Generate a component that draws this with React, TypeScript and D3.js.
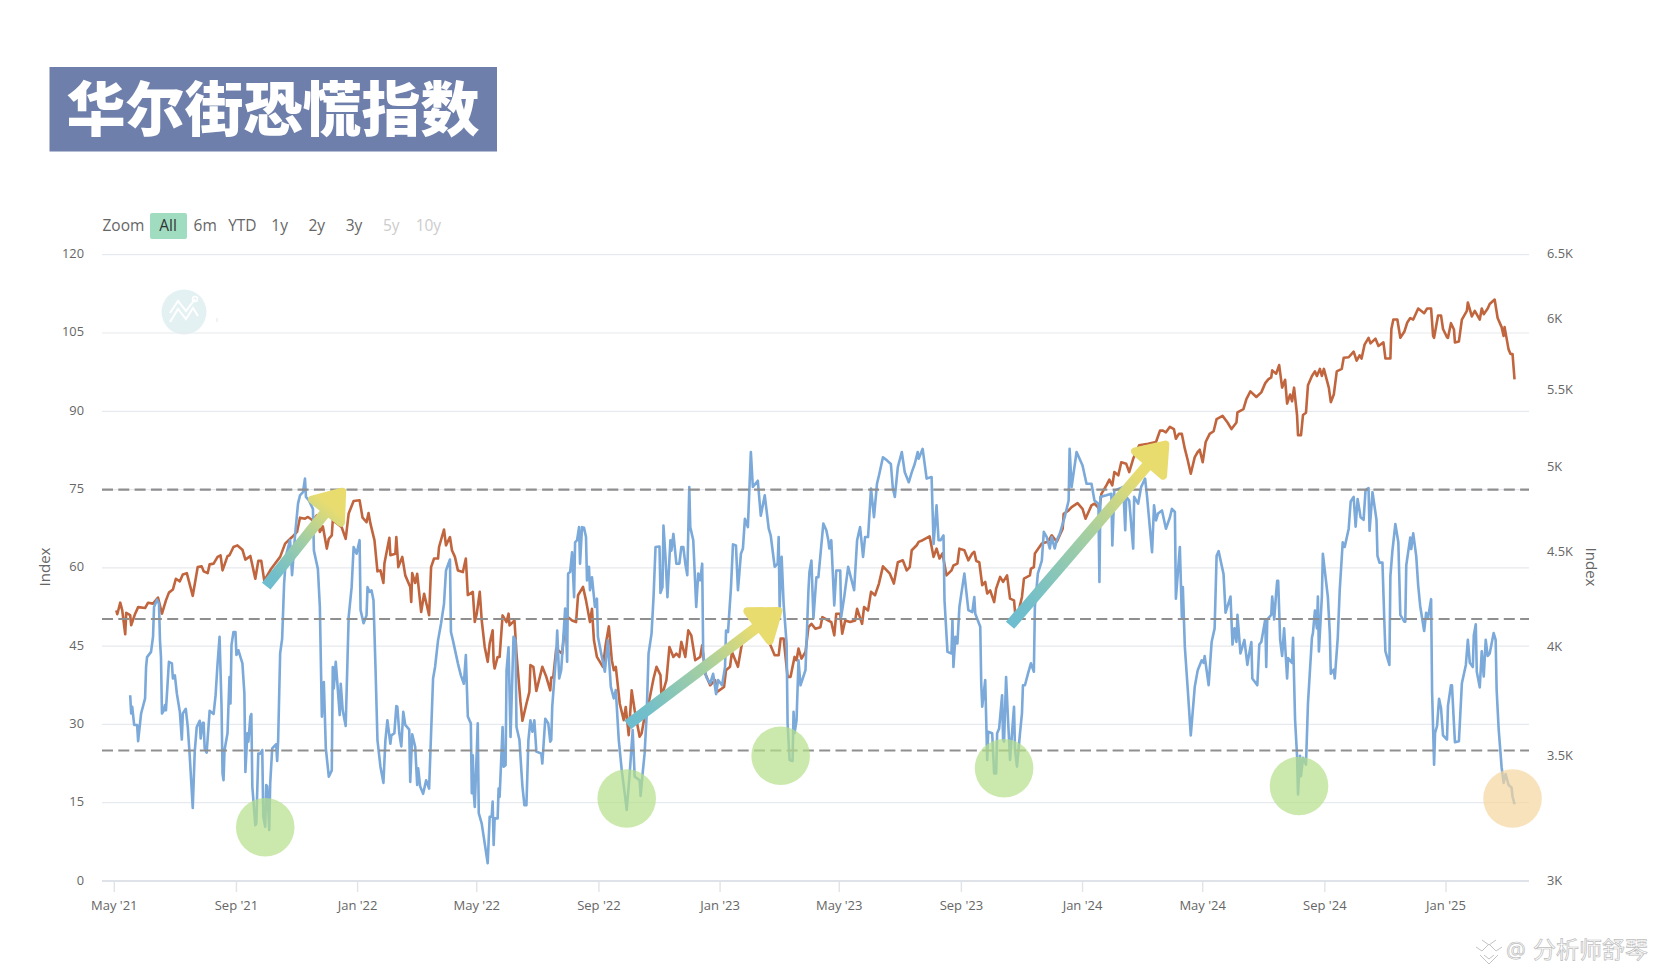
import React from 'react';
import * as d3 from 'd3';

// every point is [days since 1 May 2021, value]
const fear2021: [number, number][] = [
  [16,35.6],[17,32.1],[18,33.4],[20,29.9],[23,29.9],[24,26.8],[27,32.1],[31,35.0],[32,41.0],[33,42.9],[37,43.9],[39,46.8],[40,52.5],[43,53.9],[45,53.1],[46,46.1],[47,42.9],[48,32.1],[50,32.7],[51,33.7],[52,32.7],[55,42.0],[58,41.7],[59,38.8],[61,39.4],[63,35.9],[66,32.4],[68,27.1],[69,32.1],[72,33.0],[74,29.5],[76,23.8],[79,14.0],[81,24.8],[83,29.5],[86,30.7],[87,27.3],[89,30.3],[90,30.3],[91,25.4],[93,24.6],[96,32.6],[100,32.0],[102,35.6],[104,41.7],[106,46.8],[108,33.4],[109,20.6],[110,19.3],[111,25.1],[114,28.3],[116,39.1],[117,34.0],[118,45.2],[120,47.7],[122,47.7],[123,43.3],[125,44.2],[129,41.7],[131,35.9],[132,20.9],[134,28.3],[135,26.7],[137,31.5],[138,32.0],[139,18.1],[142,10.7],[143,11.0],[145,24.4],[147,24.4],[149,25.1],[150,12.3],[152,10.4],[153,18.4],[154,18.1],[156,9.8],[157,18.7],[159,25.4],[163,26.2],[164,23.0],[165,27.0],[167,43.6],[169,46.4],[171,57.0],[173,62.4],[177,65.3],[179,58.6],[182,66.2],[185,72.3],[187,73.9],[190,74.5],[192,77.1],[193,73.6],[196,72.9],[200,71.3],[201,63.3],[205,59.8],[207,52.5],[209,31.5],[211,38.1],[213,25.4],[216,20.0],[219,21.2],[220,41.0],[221,36.9],[223,42.0],[227,31.8],[228,37.8],[230,32.7],[233,29.7],[236,50.6],[239,56.3],[241,64.0],[244,62.7],
];
const fear2022: [number, number][] = [
  [247,65.3],[248,51.9],[251,49.4],[254,50.9],[255,56.3],[257,55.4],[259,55.7],[261,53.8],[263,41.0],[265,27.0],[268,21.9],[271,18.8],[273,27.0],[275,30.8],[278,26.3],[279,27.9],[282,28.3],[284,33.5],[285,33.4],[287,28.3],[289,25.8],[291,32.4],[293,29.9],[297,29.0],[298,19.0],[300,28.1],[303,25.7],[305,18.4],[306,21.6],[308,18.1],[311,16.7],[314,19.3],[317,17.7],[319,28.3],[321,38.8],[323,41.0],[326,46.1],[329,49.3],[332,53.1],[334,59.5],[338,61.6],[339,47.7],[341,46.1],[346,41.7],[349,39.4],[352,37.8],[354,43.3],[356,31.5],[359,30.2],[360,16.8],[361,24.1],[362,16.8],[363,14.2],[366,30.2],[367,13.0],[370,11.0],[373,7.2],[376,3.4],[378,12.3],[380,12.3],[381,15.2],[382,6.9],[383,12.0],[386,12.0],[387,17.7],[388,16.1],[391,29.5],[392,21.9],[394,22.2],[395,40.4],[397,44.8],[399,27.6],[402,46.8],[404,46.1],[405,29.5],[408,27.0],[410,20.9],[411,18.1],[413,14.5],[415,14.5],[417,27.0],[419,30.8],[421,28.6],[423,30.8],[425,24.8],[430,24.4],[431,22.5],[434,31.1],[437,30.2],[439,26.7],[440,27.0],[441,33.4],[443,38.5],[445,43.6],[446,48.0],[448,38.8],[450,40.4],[452,46.1],[454,52.2],[456,42.0],[457,58.9],[459,59.2],[461,63.0],[463,54.4],[464,64.9],[466,65.3],[468,67.8],[469,60.8],[471,67.8],[473,67.7],[475,65.9],[476,57.6],[478,60.2],[479,55.7],[481,58.2],[484,52.5],[486,54.1],[487,46.8],[491,42.9],[494,40.1],[497,46.1],[500,37.2],[503,35.0],[505,36.6],[508,27.0],[511,21.2],[514,16.8],[516,13.6],[519,20.6],[522,28.9],[524,20.0],[529,19.3],[530,16.3],[532,20.6],[534,24.4],[536,31.5],[538,43.6],[541,47.4],[543,54.4],[545,64.0],[549,64.1],[550,55.2],[552,56.3],[553,68.1],[555,62.1],[557,54.4],[560,65.3],[561,63.3],[563,66.5],[566,60.8],[569,60.8],[571,64.0],[573,64.0],[575,60.8],[577,58.6],[579,75.5],[580,67.8],[583,65.3],[586,52.5],[588,58.9],[590,57.6],[592,60.8],[593,43.6],[596,39.1],[600,37.8],[603,39.7],[606,35.8],[608,38.5],
];
const fear2023: [number, number][] = [
  [612,37.5],[615,41.0],[616,48.0],[618,47.7],[621,56.3],[623,64.5],[626,64.3],[628,55.7],[631,62.7],[633,63.7],[635,69.4],[638,67.8],[641,82.2],[643,75.5],[648,76.7],[651,70.0],[655,73.9],[659,67.5],[661,66.2],[665,60.2],[668,60.8],[669,65.9],[670,52.5],[672,62.1],[674,53.1],[677,45.5],[678,30.2],[680,23.2],[683,23.0],[684,32.4],[685,28.3],[687,30.8],[689,42.3],[691,37.5],[696,40.4],[699,55.7],[700,59.2],[702,61.4],[704,50.3],[707,58.2],[709,58.2],[714,68.5],[717,67.2],[719,65.3],[720,63.7],[722,65.3],[725,52.8],[727,59.5],[731,59.5],[732,50.6],[735,54.4],[739,60.2],[745,55.7],[748,65.3],[751,67.8],[754,62.1],[756,65.9],[759,65.9],[762,75.2],[765,69.7],[768,76.1],[770,77.7],[774,81.2],[778,80.6],[782,79.9],[784,75.2],[786,73.6],[789,79.3],[793,82.2],[796,78.3],[800,76.4],[803,78.3],[806,79.9],[809,82.2],[810,80.9],[814,82.8],[818,77.1],[823,77.4],[825,64.6],[828,72.0],[830,65.3],[832,65.3],[835,66.2],[836,53.8],[839,43.9],[843,43.6],[844,50.0],[845,41.0],[847,46.8],[849,45.5],[851,52.5],[853,55.1],[856,58.9],[860,51.9],[864,51.5],[866,54.4],[867,51.2],[872,48.7],[873,37.8],[874,33.4],[877,38.5],[879,23.2],[880,28.6],[884,28.3],[886,20.6],[888,20.6],[889,28.3],[891,29.2],[894,35.6],[895,27.0],[896,26.7],[898,39.1],[900,30.8],[902,23.2],[906,33.4],[907,25.1],[909,21.9],[912,28.3],[914,32.1],[915,37.5],[917,37.5],[920,39.7],[923,41.7],[926,40.1],[927,52.5],[930,58.9],[934,61.4],[936,66.9],[939,65.9],[942,63.7],[944,65.9],[947,63.7],[949,65.3],[952,66.5],[957,69.7],[961,72.9],[962,82.8],[964,75.5],[969,82.2],
];
const fear2024: [number, number][] = [
  [975,79.6],[979,76.1],[984,76.1],[987,72.9],[991,72.3],[992,57.3],[993,73.6],[999,73.9],[1004,74.2],[1005,64.3],[1007,74.8],[1016,75.5],[1018,67.2],[1019,73.6],[1022,72.9],[1026,63.7],[1027,73.6],[1031,72.3],[1034,75.5],[1038,77.1],[1040,73.6],[1045,63.0],[1047,72.0],[1049,69.1],[1051,70.4],[1055,71.0],[1059,67.5],[1063,69.7],[1065,71.3],[1068,70.7],[1069,54.1],[1073,64.0],[1075,50.6],[1076,56.3],[1078,44.9],[1081,36.6],[1084,27.9],[1088,37.2],[1091,40.4],[1095,42.3],[1097,41.8],[1098,43.1],[1102,37.5],[1105,45.8],[1108,48.4],[1110,62.3],[1112,63.2],[1117,58.8],[1119,51.4],[1124,54.5],[1126,45.3],[1128,48.4],[1130,45.8],[1131,51.0],[1134,43.6],[1138,46.2],[1141,41.4],[1142,42.7],[1145,45.8],[1146,38.8],[1151,37.5],[1153,45.3],[1155,45.8],[1159,50.1],[1160,41.0],[1161,50.1],[1165,51.0],[1166,54.5],[1168,50.1],[1170,55.3],[1171,57.5],[1172,57.5],[1174,46.2],[1176,43.1],[1178,48.4],[1181,38.8],[1182,42.7],[1186,41.8],[1187,46.6],[1189,31.0],[1191,24.0],[1192,16.6],[1194,24.0],[1195,20.1],[1197,23.6],[1200,22.3],[1202,34.0],[1206,46.6],[1207,47.5],[1209,51.8],[1211,48.4],[1212,54.5],[1213,44.0],[1216,54.5],[1217,62.7],[1222,54.5],[1224,47.5],[1225,39.7],[1228,40.5],[1229,38.8],[1232,46.6],[1234,55.8],[1237,64.9],[1239,64.0],[1243,67.5],[1245,72.7],[1248,73.6],[1250,67.9],[1252,73.2],[1255,69.7],[1258,69.2],[1260,74.9],[1263,75.3],[1264,67.1],[1267,74.5],[1271,69.2],[1272,62.3],[1274,61.0],[1277,61.0],[1279,49.2],[1280,44.0],[1284,41.4],[1285,58.4],[1287,63.2],[1290,68.4],[1293,64.9],[1295,51.0],[1299,49.7],[1300,49.7],[1301,60.5],[1305,65.8],[1306,63.6],[1308,66.6],[1311,62.3],[1313,56.6],[1315,52.7],[1319,47.9],[1321,51.4],[1323,50.5],[1326,54.0],[1327,36.2],[1329,22.3],[1330,28.4],[1332,29.7],[1334,34.9],[1336,33.1],[1338,27.9],
];
const fear2025: [number, number][] = [
  [1342,27.1],[1343,33.6],[1346,37.5],[1347,37.5],[1349,30.1],[1350,26.6],[1354,26.8],[1357,37.9],[1361,41.4],[1363,46.2],[1365,41.8],[1368,41.0],[1369,47.1],[1371,49.2],[1372,40.1],[1375,37.1],[1377,44.0],[1379,39.2],[1381,46.2],[1383,43.1],[1385,43.6],[1389,47.5],[1391,46.2],[1392,36.6],[1394,29.2],[1397,21.8],[1399,18.8],[1401,20.5],[1404,18.4],[1407,17.9],[1408,16.2],[1410,14.7],
];

const spx2021: [number, number][] = [
  [2,4190],[3,4170],[6,4230],[8,4190],[11,4068],[12,4177],[16,4165],[17,4114],[21,4173],[24,4207],[31,4202],[34,4230],[39,4225],[44,4257],[48,4173],[52,4242],[55,4283],[59,4299],[62,4357],[66,4343],[69,4380],[73,4387],[79,4266],[84,4420],[88,4424],[90,4397],[94,4387],[96,4435],[100,4439],[104,4476],[107,4485],[109,4402],[114,4480],[116,4485],[120,4531],[124,4540],[129,4516],[132,4461],[137,4481],[142,4357],[145,4454],[148,4454],[151,4347],[158,4411],[167,4476],[172,4550],[179,4587],[184,4616],[187,4698],[192,4692],[195,4702],[200,4682],[204,4712],[207,4616],[210,4648],[214,4522],[216,4577],[219,4596],[220,4682],[225,4662],[229,4643],[233,4577],[236,4722],[241,4796],
];
const spx2022: [number, number][] = [
  [247,4800],[250,4698],[254,4672],[256,4725],[258,4662],[262,4568],[265,4397],[268,4402],[271,4334],[272,4439],[277,4583],[278,4485],[283,4494],[284,4587],[286,4420],[290,4476],[293,4375],[298,4313],[299,4234],[300,4387],[303,4334],[305,4384],[309,4182],[312,4277],[317,4165],[319,4420],[322,4467],[326,4467],[327,4531],[332,4630],[334,4540],[338,4587],[340,4513],[343,4476],[346,4402],[351,4393],[354,4467],[356,4270],[361,4287],[363,4131],[365,4173],[368,4287],[370,4138],[373,4005],[376,3932],[378,4022],[381,4088],[382,3932],[383,3900],[386,3956],[388,3956],[391,4164],[395,4130],[397,4173],[398,4113],[403,4138],[405,3972],[409,3742],[411,3656],[415,3734],[418,3789],[419,3916],[422,3908],[425,3793],[431,3908],[435,3860],[439,3796],[440,3857],[442,3857],[445,3997],[451,3972],[454,4121],[457,4155],[461,4138],[465,4130],[467,4269],[472,4313],[475,4242],[479,4130],[481,4198],[483,4038],[486,3956],[492,3908],[495,4022],[498,4108],[501,3940],[503,3892],[505,3908],[509,3734],[513,3659],[515,3719],[518,3592],[521,3796],[524,3704],[529,3585],[531,3600],[534,3674],[538,3734],[543,3852],[546,3908],[550,3868],[551,3765],[556,3844],[559,4005],[563,3956],[566,3972],[569,3956],[571,4030],[575,3956],[578,4088],[581,4063],[585,3940],[590,3956],[592,4013],[595,3876],[600,3820],[605,3844],[607,3789],
];
const spx2023: [number, number][] = [
  [614,3812],[616,3892],[620,3908],[622,3980],[628,3908],[632,4022],[640,4055],[649,4104],[660,4022],[665,3964],[669,3964],[671,4047],[674,4047],[678,3860],[681,3860],[683,3908],[685,3956],[687,3940],[689,3997],[692,3948],[696,3980],[699,4104],[702,4121],[706,4096],[711,4104],[713,4155],[719,4138],[722,4130],[725,4063],[727,4173],[731,4173],[733,4071],[736,4138],[741,4130],[746,4138],[748,4198],[753,4121],[755,4207],[759,4190],[762,4287],[766,4269],[770,4331],[774,4424],[781,4384],[785,4331],[789,4447],[794,4457],[798,4402],[801,4420],[803,4513],[808,4541],[810,4560],[814,4569],[821,4591],[824,4504],[825,4476],[828,4522],[831,4467],[834,4495],[838,4375],[843,4402],[845,4429],[849,4439],[851,4522],[856,4513],[860,4457],[864,4495],[866,4504],[868,4453],[871,4447],[874,4322],[877,4340],[879,4278],[882,4295],[886,4233],[888,4304],[892,4367],[895,4340],[899,4375],[902,4251],[906,4242],[908,4130],[914,4260],[916,4358],[922,4375],[923,4411],[926,4420],[927,4495],[934,4550],[940,4560],[944,4597],[949,4560],[955,4634],[956,4720],[961,4740],[964,4760],[970,4783],
];
const spx2024: [number, number][] = [
  [975,4750],[978,4692],[984,4770],[987,4780],[992,4750],[994,4838],[999,4889],[1002,4924],[1005,4889],[1007,4970],[1011,4950],[1014,5031],[1019,5021],[1022,4970],[1026,5052],[1032,5137],[1041,5147],[1049,5158],[1053,5231],[1056,5231],[1059,5220],[1063,5256],[1067,5241],[1069,5179],[1072,5210],[1075,5210],[1078,5116],[1081,5042],[1084,4960],[1088,5063],[1091,5095],[1093,5109],[1096,5031],[1099,5158],[1103,5210],[1107,5227],[1110,5306],[1116,5327],[1121,5284],[1125,5241],[1130,5284],[1131,5350],[1137,5372],[1140,5438],[1144,5491],[1150,5453],[1155,5484],[1159,5547],[1162,5573],[1165,5586],[1166,5635],[1170,5612],[1173,5672],[1176,5516],[1179,5570],[1181,5409],[1184,5469],[1186,5424],[1188,5516],[1191,5333],[1192,5202],[1195,5202],[1197,5333],[1200,5348],[1202,5532],[1206,5596],[1209,5628],[1211,5596],[1214,5645],[1216,5596],[1218,5645],[1223,5516],[1225,5418],[1228,5469],[1231,5628],[1236,5645],[1238,5724],[1243,5727],[1248,5767],[1251,5703],[1254,5741],[1256,5718],[1259,5817],[1263,5866],[1265,5826],[1270,5860],[1273,5807],[1278,5833],[1280,5718],[1285,5718],[1286,5930],[1288,6000],[1292,6000],[1295,5866],[1299,5910],[1302,5978],[1305,6011],[1308,6000],[1313,6082],[1319,6047],[1322,6082],[1326,6082],[1328,5880],[1329,5866],[1333,6030],[1336,6030],[1338,5930],
];
const spx2025: [number, number][] = [
  [1342,5870],[1343,5866],[1346,5973],[1349,5927],[1350,5833],[1354,5840],[1357,6000],[1362,6065],[1363,6128],[1367,6023],[1370,6065],[1375,6000],[1377,6082],[1379,6040],[1383,6082],[1385,6116],[1390,6150],[1393,6011],[1397,5944],[1399,5880],[1400,5944],[1404,5783],[1406,5750],[1408,5750],[1410,5573],
];

const fearIndex = [...fear2021, ...fear2022, ...fear2023, ...fear2024, ...fear2025];
const spxIndex = [...spx2021, ...spx2022, ...spx2023, ...spx2024, ...spx2025];

const leftTicks = [0, 15, 30, 45, 60, 75, 90, 105, 120];
const rightTicks = [3000, 3500, 4000, 4500, 5000, 5500, 6000, 6500];
const dashedLevels = [75, 50.2, 25];
const monthTicks = ['2021-05-01', '2021-09-01', '2022-01-01', '2022-05-01', '2022-09-01', '2023-01-01', '2023-05-01', '2023-09-01', '2024-01-01', '2024-05-01', '2024-09-01', '2025-01-01'];
const zoomButtons = ['All', '6m', 'YTD', '1y', '2y', '3y', '5y', '10y'];
const disabledButtons = ['5y', '10y'];

// annotations: [day, left axis value]
const greenCircles: [number, number][] = [[152, 10.3], [516, 15.8], [671, 24.0], [896, 21.6], [1193, 18.2]];
const orangeCircles: [number, number][] = [[1408, 15.8]];
// [start day, start value, tip day, tip value]
const arrows: [number, number, number, number][] = [
  [153, 56.5, 232, 75.2],
  [517, 29.9, 672, 52.2],
  [902, 49, 1061, 84.2],
];

const W = 1657;
const H = 972;
const FONT = '"Open Sans", "Noto Sans", sans-serif';
const CJK = '"Noto Sans CJK SC", sans-serif';

const start = Date.UTC(2021, 4, 1);
const dayDate = (d: number) => new Date(start + d * 86400000);

const x = d3.scaleUtc().domain([new Date('2021-05-01'), new Date('2025-01-01')]).range([114.3, 1446]);
const yLeft = d3.scaleLinear().domain([0, 120]).range([881, 254.7]);
const yRight = d3.scaleLog().domain([3000, 6500]).range([881, 254.7]);

const fearLine = d3.line<[number, number]>().x(d => x(dayDate(d[0]))).y(d => yLeft(d[1]));
const spxLine = d3.line<[number, number]>().x(d => x(dayDate(d[0]))).y(d => yRight(d[1]));
const monthFmt = d3.utcFormat("%b '%y");

const plotLeft = 102;
const plotRight = 1529;

function Arrow({ a, id }: { a: [number, number, number, number]; id: string }) {
  const x0 = x(dayDate(a[0]));
  const y0 = yLeft(a[1]);
  const x1 = x(dayDate(a[2]));
  const y1 = yLeft(a[3]);
  const len = Math.hypot(x1 - x0, y1 - y0);
  const ux = (x1 - x0) / len;
  const uy = (y1 - y0) / len;
  const pt = (along: number, side: number) => `${x0 + ux * along - uy * side},${y0 + uy * along + ux * side}`;
  const headStart = len - 33;
  return (
    <g>
      <defs>
        <linearGradient id={id} gradientUnits="userSpaceOnUse" x1={x0} y1={y0} x2={x1} y2={y1}>
          <stop offset="0" stopColor="#6cbdd0" />
          <stop offset="0.12" stopColor="#72bfca" />
          <stop offset="0.5" stopColor="#a6cfa0" />
          <stop offset="0.82" stopColor="#e8dc70" />
          <stop offset="1" stopColor="#e9dc6c" />
        </linearGradient>
      </defs>
      <polygon points={[pt(0, -5.5), pt(0, 5.5), pt(headStart + 4, 5.5), pt(headStart + 4, -5.5)].join(' ')} fill={`url(#${id})`} />
      <polygon
        points={[pt(headStart + 4, -18.5), pt(headStart + 4, 18.5), pt(len - 4, 0)].join(' ')}
        fill={`url(#${id})`}
        stroke={`url(#${id})`}
        strokeWidth={8}
        strokeLinejoin="round"
      />
    </g>
  );
}

export default function App() {
  return (
    <svg width={W} height={H} viewBox={`0 0 ${W} ${H}`} style={{ position: 'absolute', left: 0, top: 0, display: 'block', background: '#fff' }}>
      {/* title banner */}
      <rect x={49.5} y={67} width={447.5} height={84.5} fill="#6e7fab" />
      <text x={273} y={131} textAnchor="middle" fontFamily={CJK} fontWeight={900} fontSize={59} fill="#fff">华尔街恐慌指数</text>

      {/* range selector */}
      <text x={102.5} y={231} fontFamily={FONT} fontSize={15.5} fill="#666">Zoom</text>
      <rect x={150} y={213} width={37} height={26} rx={2} fill="#9fdcc0" />
      {zoomButtons.map((b, i) => (
        <text key={b} x={168 + i * 37.2} y={231} textAnchor="middle" fontFamily={FONT} fontSize={15.5}
          fill={disabledButtons.includes(b) ? '#ccc' : i === 0 ? '#333' : '#666'}>{b}</text>
      ))}

      {/* watermark logo in the plot */}
      <circle cx={184} cy={312} r={22.5} fill="#e4f1f3" />
      <path d="M170 322 L178 309 L186 319 L193 308 L198 316 M170 313 L178 301 L186 311 L195 299" fill="none" stroke="#fff" strokeWidth={2} />
      <circle cx={195} cy={299} r={2.5} fill="none" stroke="#fff" strokeWidth={1.5} />
      <rect x={216.5} y={318} width={1} height={4} fill="#e8e8e8" />

      {/* grid */}
      {leftTicks.slice(1).map(t => (
        <line key={t} x1={plotLeft} x2={plotRight} y1={yLeft(t)} y2={yLeft(t)} stroke="#e6e9ee" strokeWidth={1.2} />
      ))}
      <line x1={plotLeft} x2={plotRight} y1={881} y2={881} stroke="#dfe2e8" strokeWidth={2} />
      {monthTicks.map(m => {
        const px = x(new Date(m));
        return (
          <g key={m}>
            <line x1={px} x2={px} y1={881} y2={892} stroke="#e0e3e8" strokeWidth={1.4} />
            <text x={px} y={910} textAnchor="middle" fontFamily={FONT} fontSize={13} fill="#666">{monthFmt(new Date(m))}</text>
          </g>
        );
      })}

      {/* axis labels */}
      {leftTicks.map(t => (
        <text key={t} x={84} y={yLeft(t) + 3.5} textAnchor="end" fontFamily={FONT} fontSize={12.8} fill="#666">{t}</text>
      ))}
      {rightTicks.map(t => (
        <text key={t} x={1547} y={yRight(t) + 3.5} fontFamily={FONT} fontSize={12.8} fill="#666">{`${t / 1000}K`}</text>
      ))}
      <text transform="translate(50,567) rotate(-90)" textAnchor="middle" fontFamily={FONT} fontSize={15} fill="#666">Index</text>
      <text transform="translate(1586,567) rotate(90)" textAnchor="middle" fontFamily={FONT} fontSize={15} fill="#666">Index</text>

      {/* series */}
      <path d={spxLine(spxIndex) ?? ''} fill="none" stroke="#c0653d" strokeWidth={2.6} strokeLinejoin="round" />
      <path d={fearLine(fearIndex) ?? ''} fill="none" stroke="#7aa9da" strokeWidth={2.6} strokeLinejoin="round" />

      {/* reference levels */}
      {dashedLevels.map(l => (
        <line key={l} x1={plotLeft} x2={plotRight} y1={yLeft(l)} y2={yLeft(l)} stroke="#8f8f8f" strokeWidth={2.2} strokeDasharray="11 5.3" />
      ))}

      {/* highlights */}
      {greenCircles.map(c => (
        <circle key={c[0]} cx={x(dayDate(c[0]))} cy={yLeft(c[1])} r={29.3} fill="#b5e08a" fillOpacity={0.7} />
      ))}
      {orangeCircles.map(c => (
        <circle key={c[0]} cx={x(dayDate(c[0]))} cy={yLeft(c[1])} r={29.3} fill="#f5d69e" fillOpacity={0.7} />
      ))}
      {arrows.map((a, i) => <Arrow key={i} a={a} id={`arrow-grad-${i}`} />)}

      {/* source watermark */}
      <g fill="none" stroke="#c4c4c4" strokeWidth={1}>
        <path d="M1476 947 L1482 951 L1489 944 L1496 951 L1502 947" />
        <path d="M1482 940 L1489 945 L1496 940" />
        <path d="M1480 955 L1489 964 L1498 955" />
        <path d="M1484 955 L1489 959 L1494 955" />
      </g>
      <text x={1506} y={958} fontFamily={FONT} fontSize={22} fill="#fff" stroke="#bdbdbd" strokeWidth={0.7}>@</text>
      <text x={1533} y={958} fontFamily={CJK} fontSize={23} fill="#fff" stroke="#bdbdbd" strokeWidth={0.7}>分析师舒琴</text>
    </svg>
  );
}
